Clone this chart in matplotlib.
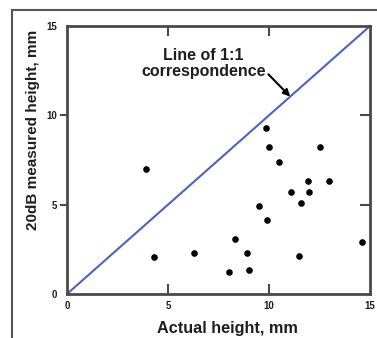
import matplotlib as mpl
mpl.use("Agg")
import matplotlib.pyplot as plt
from matplotlib.lines import Line2D

plt.rcParams["font.family"] = ["Liberation Sans", "DejaVu Sans"]
plt.rcParams["font.weight"] = "bold"

# values
actual_mm = [3.9, 4.3, 6.3, 8.3, 8.0, 8.9, 9.0, 9.5, 9.9, 9.85,
             10.0, 10.5, 11.1, 12.0, 11.6, 11.95, 12.95, 12.5, 11.5, 14.6]
measured_mm = [7.0, 2.05, 2.3, 3.1, 1.25, 2.3, 1.35, 4.9, 4.15, 9.3,
               8.2, 7.4, 5.7, 5.7, 5.1, 6.3, 6.3, 8.2, 2.1, 2.9]
ref_line = [0, 15]
major_ticks = [0, 5, 10, 15]
marked_ticks = [5, 10]

text_col = "#1e1e1e"
spine_col = "#4a4a4a"

fig = plt.figure(figsize=(3.77, 3.38), dpi=100)
ax = fig.add_axes([67 / 377, 1 - 294 / 338, 303 / 377, 268 / 338])

ax.plot(ref_line, ref_line, color="#4a64be", lw=1.5, clip_on=False, zorder=2)
ax.scatter(actual_mm, measured_mm, s=14, color="black", zorder=3)

ax.set_xlim(0, 15)
ax.set_ylim(0, 15)

for sp in ax.spines.values():
    sp.set_color(spine_col)
    sp.set_linewidth(2)

ax.set_xticks(major_ticks)
ax.set_yticks(major_ticks)
ax.tick_params(labelsize=7, labelcolor=text_col, color=spine_col, width=1.5)
ax.tick_params(axis="x", direction="in", length=7, top=True, pad=5)
ax.tick_params(axis="y", direction="out", length=5, pad=2)

# only the inner ticks get a mark, 0 and 15 just carry labels
for axis in (ax.xaxis, ax.yaxis):
    for val, tick in zip(major_ticks, axis.get_major_ticks()):
        if val not in marked_ticks:
            tick.tick1line.set_visible(False)
            tick.tick2line.set_visible(False)

# right side ticks point inward
right = ax.secondary_yaxis("right")
right.set_yticks(marked_ticks)
right.tick_params(direction="in", length=7, width=1.5, color=spine_col,
                  labelright=False)
right.spines["right"].set_visible(False)

ax.set_xlabel("Actual height, mm", fontsize=11.7, fontweight="bold",
              color=text_col)
ax.xaxis.set_label_coords(0.53, -0.10)
ax.set_ylabel("20dB measured height, mm", fontsize=11, fontweight="bold",
              color=text_col)
ax.yaxis.set_label_coords(-0.089, 0.612)

ax.annotate("Line of 1:1\ncorrespondence", xy=(11.05, 11.05), xytext=(6.75, 12.9),
            ha="center", va="center", fontsize=11.5, fontweight="bold",
            color=text_col, linespacing=1.15,
            arrowprops=dict(arrowstyle="-|>", color="black", lw=1.5,
                            shrinkA=0, shrinkB=0, mutation_scale=10,
                            relpos=(1.0, 0.25)))

# outer frame of the original figure panel
fx = 12 / 377
fy = 1 - 10 / 338
fig.add_artist(Line2D([fx, 1.0], [fy, fy], transform=fig.transFigure,
                      color="#555555", lw=1.5))
fig.add_artist(Line2D([fx, fx], [0.0, fy], transform=fig.transFigure,
                      color="#555555", lw=1.5))

fig.savefig("out.png", dpi=100)
